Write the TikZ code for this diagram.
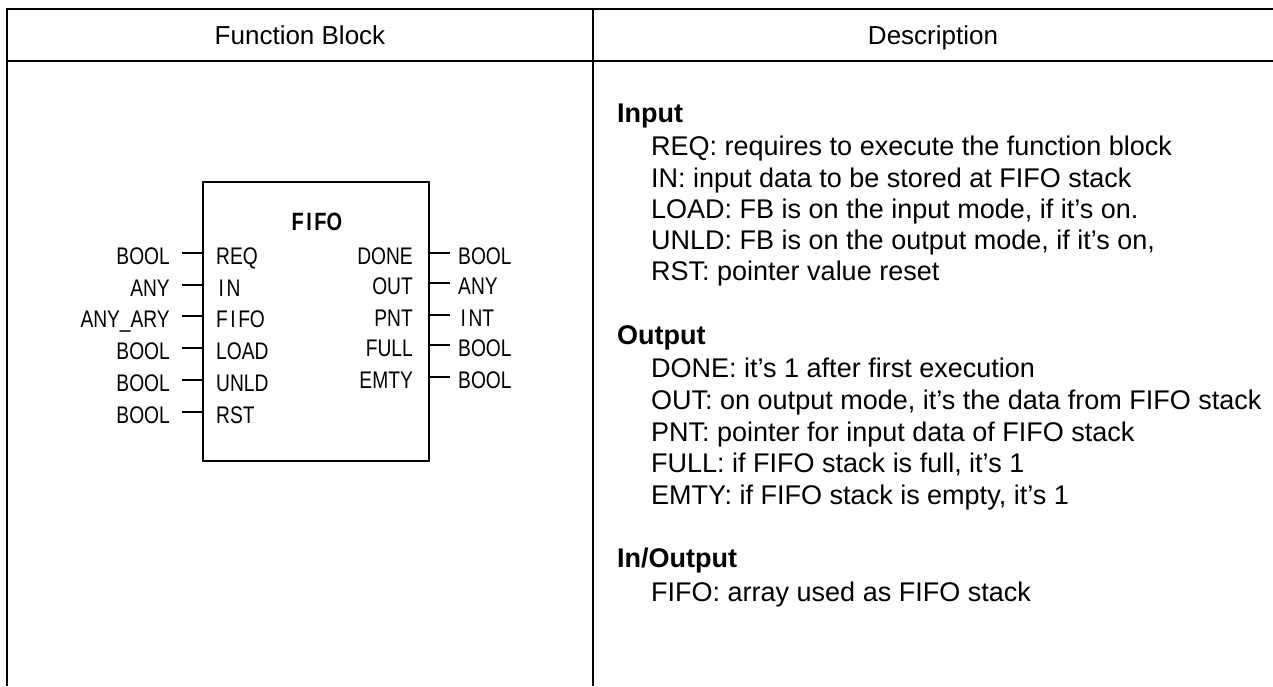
\documentclass[tikz,border=0pt]{standalone}
\usepackage{fontspec}
\setmainfont{Liberation Sans}
\newfontfamily\fbfont[FakeStretch=0.8]{Liberation Sans}
\newcommand{\wideI}{\kern2.5pt I\kern2.5pt}
\begin{document}
\begin{tikzpicture}[x=1pt,y=-1pt,
  tbl/.style={line width=2.6pt},
  hdr/.style={anchor=base,inner sep=0pt,font=\fontsize{26}{30}\selectfont},
  desc/.style={anchor=base west,inner sep=0pt,font=\fontsize{27}{31}\selectfont},
  deschead/.style={anchor=base west,inner sep=0pt,font=\fontsize{27}{31}\selectfont\bfseries},
  pinL/.style={anchor=base west,inner sep=0pt,font=\fbfont\fontsize{24}{28}\selectfont},
  pinR/.style={anchor=base east,inner sep=0pt,font=\fbfont\fontsize{24}{28}\selectfont},
  stub/.style={line width=2.8pt},
  fbbox/.style={draw,line width=2pt,minimum width=226pt,minimum height=279pt,inner sep=0pt}
]
\useasboundingbox (0,0) rectangle (1273,686);
% table
\draw[tbl] (7,686) -- (7,9) -- (1273,9);
\draw[tbl] (7,61) -- (1273,61);
\draw[tbl] (593,9) -- (593,686);
\node[hdr] (h1) at (300,44.5) {Function Block};
\node[hdr] (h2) at (933,44.5) {Description};
% function block
\node[fbbox] (fb) at (316,321.5) {};
\node[inner sep=0pt,font=\fbfont\fontsize{25}{29}\selectfont\bfseries] (title) at (317,222) {F\wideI FO};
% inputs
\foreach \n/\t/\p/\y in {1/BOOL/REQ/253, 2/ANY/{\wideI N}/285, 3/ANY\_ARY/{F\wideI FO}/316, 4/BOOL/LOAD/348, 5/BOOL/UNLD/380, 6/BOOL/RST/412}{
  \coordinate (ls\n) at (182,\y);
  \node[pinR] (lt\n) at (170,\y+11.5) {\t};
  \node[pinL] (ln\n) at (216,\y+11.5) {\p};
  \draw[stub] (ls\n) -- (fb.west |- ls\n);
}
% outputs
\foreach \n/\t/\p/\y in {1/BOOL/DONE/253, 2/ANY/OUT/283, 3/{\wideI NT}/PNT/315, 4/BOOL/FULL/345, 5/BOOL/EMTY/377}{
  \coordinate (rs\n) at (450,\y);
  \node[pinL] (rt\n) at (458,\y+11.5) {\t};
  \node[pinR] (rn\n) at (413,\y+11.5) {\p};
  \draw[stub] (fb.east |- rs\n) -- (rs\n);
}
% description
\node[deschead] (d1) at (617,122) {Input};
\node[desc] (d2) at (651,155) {REQ: requires to execute the function block};
\node[desc] (d3) at (651,187) {IN: input data to be stored at FIFO stack};
\node[desc] (d4) at (651,218) {LOAD: FB is on the input mode, if it’s on.};
\node[desc] (d5) at (651,249) {UNLD: FB is on the output mode, if it’s on,};
\node[desc] (d6) at (651,280) {RST: pointer value reset};
\node[deschead] (d7) at (617,344) {Output};
\node[desc] (d8) at (651,377) {DONE: it’s 1 after first execution};
\node[desc] (d9) at (651,409) {OUT: on output mode, it’s the data from FIFO stack};
\node[desc] (d10) at (651,441) {PNT: pointer for input data of FIFO stack};
\node[desc] (d11) at (651,472) {FULL: if FIFO stack is full, it’s 1};
\node[desc] (d12) at (651,504) {EMTY: if FIFO stack is empty, it’s 1};
\node[deschead] (d13) at (617,567) {In/Output};
\node[desc] (d14) at (651,601) {FIFO: array used as FIFO stack};
\end{tikzpicture}
\end{document}
